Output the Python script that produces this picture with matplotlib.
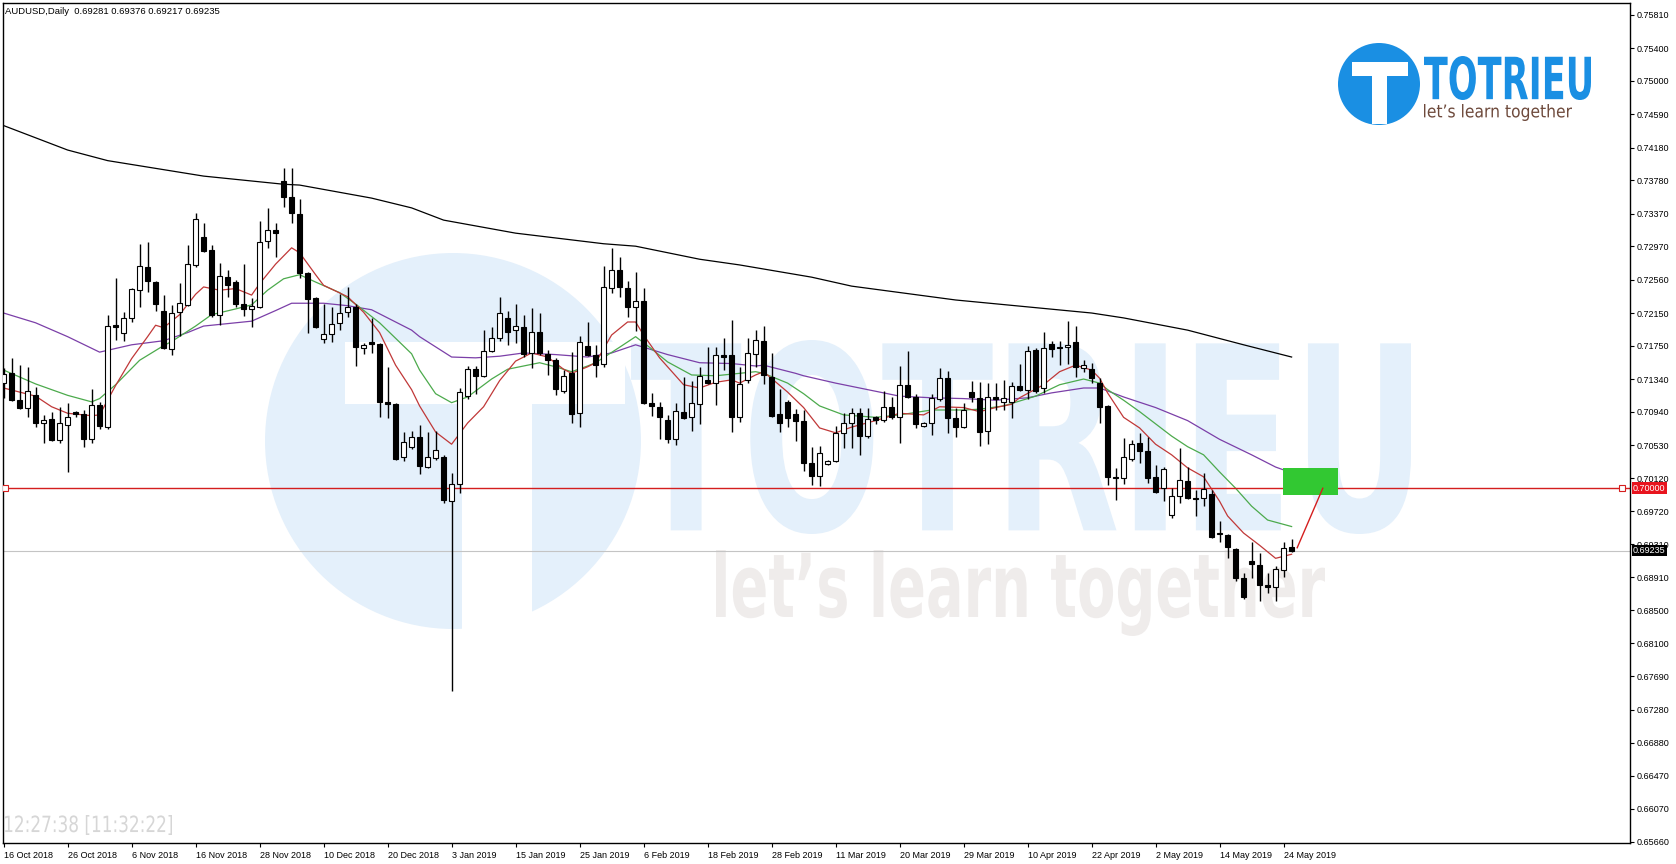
import matplotlib
matplotlib.use('Agg')
import matplotlib.pyplot as plt
from matplotlib.textpath import TextPath
from matplotlib.font_manager import FontProperties
from matplotlib.patches import PathPatch, Circle, Rectangle
from matplotlib.transforms import Affine2D, blended_transform_factory

# AUDUSD daily candles, 16 Oct 2018 .. 27 May 2019
opens = [0.7129, 0.7141, 0.7108, 0.7099, 0.7114, 0.7080, 0.7085, 0.7059, 0.7078, 0.7094,
         0.7091, 0.7060, 0.7102, 0.7075, 0.7200, 0.7191, 0.7209, 0.7243, 0.7272, 0.7253,
         0.7218, 0.7171, 0.7216, 0.7225, 0.7274, 0.7308, 0.7292, 0.7213, 0.7259, 0.7253,
         0.7226, 0.7220, 0.7222, 0.7303, 0.7317, 0.7377, 0.7357, 0.7336, 0.7264, 0.7233,
         0.7183, 0.7189, 0.7203, 0.7216, 0.7222, 0.7172, 0.7179, 0.7177, 0.7106, 0.7103,
         0.7038, 0.7051, 0.7063, 0.7026, 0.7037, 0.7038, 0.6984, 0.7005, 0.7113, 0.7146,
         0.7138, 0.7168, 0.7184, 0.7209, 0.7194, 0.7198, 0.7166, 0.7192, 0.7165, 0.7157,
         0.7119, 0.7141, 0.7092, 0.7175, 0.7164, 0.7153, 0.7246, 0.7268, 0.7246, 0.7222,
         0.7230, 0.7105, 0.7100, 0.7084, 0.7060, 0.7094, 0.7087, 0.7103, 0.7133, 0.7129,
         0.7164, 0.7164, 0.7087, 0.7133, 0.7165, 0.7181, 0.7136, 0.7091, 0.7106, 0.7091,
         0.7083, 0.7031, 0.7015, 0.7030, 0.7033, 0.7068, 0.7080, 0.7092, 0.7064, 0.7087,
         0.7084, 0.7100, 0.7087, 0.7127, 0.7112, 0.7076, 0.7080, 0.7110, 0.7135, 0.7086,
         0.7075, 0.7118, 0.7111, 0.7070, 0.7112, 0.7106, 0.7106, 0.7126, 0.7121, 0.7170,
         0.7123, 0.7177, 0.7173, 0.7173, 0.7179, 0.7148, 0.7146, 0.7129, 0.7101, 0.7014,
         0.7013, 0.7036, 0.7055, 0.7046, 0.7014, 0.7000, 0.6967, 0.6990, 0.7009, 0.6988,
         0.6988, 0.6993, 0.6944, 0.6943, 0.6925, 0.6890, 0.6911, 0.6906, 0.6881, 0.6879,
         0.6900, 0.69281]
highs = [0.7148, 0.7160, 0.7151, 0.7149, 0.7124, 0.7090, 0.7094, 0.7100, 0.7105, 0.7095,
         0.7096, 0.7122, 0.7106, 0.7213, 0.7258, 0.7216, 0.7246, 0.7300, 0.7302, 0.7254,
         0.7237, 0.7225, 0.7252, 0.7299, 0.7338, 0.7326, 0.7299, 0.7276, 0.7268, 0.7256,
         0.7275, 0.7233, 0.7328, 0.7344, 0.7326, 0.7393, 0.7393, 0.7355, 0.7265, 0.7235,
         0.7226, 0.7222, 0.7238, 0.7247, 0.7226, 0.7178, 0.7209, 0.7178, 0.7149, 0.7105,
         0.7069, 0.7070, 0.7078, 0.7069, 0.7070, 0.7041, 0.7019, 0.7123, 0.7150, 0.7150,
         0.7194, 0.7198, 0.7235, 0.7218, 0.7226, 0.7213, 0.7221, 0.7215, 0.7170, 0.7160,
         0.7145, 0.7167, 0.7187, 0.7204, 0.7176, 0.7273, 0.7295, 0.7284, 0.7254, 0.7265,
         0.7246, 0.7117, 0.7106, 0.7090, 0.7105, 0.7136, 0.7132, 0.7149, 0.7173, 0.7173,
         0.7184, 0.7206, 0.7149, 0.7184, 0.7194, 0.7199, 0.7166, 0.7122, 0.7108, 0.7097,
         0.7096, 0.7051, 0.7052, 0.7035, 0.7076, 0.7092, 0.7099, 0.7099, 0.7099, 0.7089,
         0.7119, 0.7112, 0.7150, 0.7168, 0.7116, 0.7081, 0.7116, 0.7148, 0.7144, 0.7099,
         0.7105, 0.7132, 0.7130, 0.7129, 0.7129, 0.7133, 0.7130, 0.7153, 0.7175, 0.7172,
         0.7192, 0.7181, 0.7181, 0.7205, 0.7199, 0.7157, 0.7154, 0.7135, 0.7102, 0.7025,
         0.7062, 0.7059, 0.7068, 0.7063, 0.7029, 0.7026, 0.7000, 0.7049, 0.7026, 0.6998,
         0.7019, 0.6998, 0.6960, 0.6944, 0.6927, 0.6896, 0.6934, 0.6921, 0.6896, 0.6904,
         0.6934, 0.69376]
lows = [0.7111, 0.7107, 0.7097, 0.7087, 0.7075, 0.7055, 0.7058, 0.7055, 0.7020, 0.7087,
        0.7051, 0.7055, 0.7073, 0.7073, 0.7182, 0.7181, 0.7204, 0.7222, 0.7241, 0.7218,
        0.7171, 0.7164, 0.7187, 0.7224, 0.7272, 0.7290, 0.7210, 0.7200, 0.7235, 0.7222,
        0.7211, 0.7198, 0.7221, 0.7295, 0.7284, 0.7345, 0.7326, 0.7258, 0.7191, 0.7197,
        0.7178, 0.7179, 0.7194, 0.7210, 0.7150, 0.7165, 0.7166, 0.7087, 0.7086, 0.7035,
        0.7033, 0.7048, 0.7018, 0.7025, 0.7035, 0.6982, 0.6751, 0.6994, 0.7110, 0.7116,
        0.7136, 0.7167, 0.7181, 0.7176, 0.7178, 0.7161, 0.7148, 0.7164, 0.7139, 0.7114,
        0.7117, 0.7080, 0.7075, 0.7162, 0.7136, 0.7149, 0.7240, 0.7235, 0.7210, 0.7193,
        0.7103, 0.7089, 0.7060, 0.7055, 0.7053, 0.7085, 0.7070, 0.7079, 0.7128, 0.7102,
        0.7145, 0.7069, 0.7081, 0.7129, 0.7149, 0.7128, 0.7087, 0.7069, 0.7075, 0.7058,
        0.7021, 0.7004, 0.7003, 0.7029, 0.7032, 0.7049, 0.7049, 0.7041, 0.7062, 0.7079,
        0.7081, 0.7085, 0.7055, 0.7111, 0.7074, 0.7075, 0.7065, 0.7107, 0.7068, 0.7063,
        0.7074, 0.7106, 0.7052, 0.7054, 0.7096, 0.7096, 0.7086, 0.7119, 0.7110, 0.7117,
        0.7117, 0.7161, 0.7151, 0.7153, 0.7136, 0.7143, 0.7129, 0.7080, 0.7004, 0.6986,
        0.7005, 0.7033, 0.7031, 0.7007, 0.6994, 0.6984, 0.6964, 0.6982, 0.6987, 0.6966,
        0.6978, 0.6939, 0.6934, 0.6914, 0.6886, 0.6864, 0.6890, 0.6862, 0.6872, 0.6862,
        0.6891, 0.69217]
closes = [0.7140, 0.7108, 0.7099, 0.7119, 0.7080, 0.7084, 0.7059, 0.7080, 0.7087, 0.7091,
          0.7060, 0.7102, 0.7076, 0.7199, 0.7198, 0.7209, 0.7245, 0.7273, 0.7254, 0.7226,
          0.7172, 0.7215, 0.7227, 0.7275, 0.7330, 0.7291, 0.7213, 0.7260, 0.7249, 0.7226,
          0.7220, 0.7224, 0.7302, 0.7317, 0.7313, 0.7357, 0.7338, 0.7264, 0.7232, 0.7198,
          0.7189, 0.7202, 0.7215, 0.7222, 0.7173, 0.7176, 0.7177, 0.7106, 0.7103, 0.7036,
          0.7057, 0.7063, 0.7027, 0.7038, 0.7047, 0.6986, 0.7005, 0.7118, 0.7146, 0.7138,
          0.7168, 0.7184, 0.7215, 0.7192, 0.7199, 0.7165, 0.7192, 0.7166, 0.7157, 0.7122,
          0.7138, 0.7091, 0.7179, 0.7164, 0.7151, 0.7247, 0.7268, 0.7247, 0.7222, 0.7230,
          0.7105, 0.7101, 0.7087, 0.7060, 0.7095, 0.7086, 0.7105, 0.7138, 0.7129, 0.7164,
          0.7161, 0.7087, 0.7128, 0.7166, 0.7182, 0.7139, 0.7089, 0.7080, 0.7086, 0.7083,
          0.7031, 0.7015, 0.7043, 0.7033, 0.7068, 0.7080, 0.7092, 0.7064, 0.7085, 0.7084,
          0.7100, 0.7087, 0.7127, 0.7112, 0.7079, 0.7080, 0.7111, 0.7135, 0.7086, 0.7075,
          0.7096, 0.7112, 0.7069, 0.7112, 0.7110, 0.7111, 0.7126, 0.7121, 0.7168, 0.7119,
          0.7172, 0.7171, 0.7172, 0.7176, 0.7149, 0.7151, 0.7135, 0.7100, 0.7014, 0.7013,
          0.7038, 0.7054, 0.7046, 0.7013, 0.6995, 0.7024, 0.6990, 0.7010, 0.6988, 0.6987,
          0.6999, 0.6940, 0.6945, 0.6928, 0.6890, 0.6867, 0.6907, 0.6881, 0.6879, 0.6901,
          0.6927, 0.69235]

# moving averages, sampled along the drawn lines (bar index, price)
ma_red_idx = [0, 4, 6, 8, 11, 12, 14, 16, 18, 19, 20, 22, 24, 25, 27, 29, 31, 32, 34, 36,
              37, 39, 40, 43, 45, 47, 49, 51, 52, 54, 56, 58, 60, 62, 64, 66, 68, 70, 71, 73,
              74, 76, 78, 79, 80, 82, 85, 87, 89, 91, 92, 94, 95, 98, 100, 102, 104, 106, 109, 112,
              115, 117, 120, 122, 124, 126, 127, 130, 132, 134, 136, 137, 138, 140, 142, 144, 146, 148, 150, 152,
              153, 155, 157, 159, 161]
ma_red = [0.7123, 0.7113, 0.7100, 0.7092, 0.7089, 0.7090, 0.7126, 0.7159, 0.7186, 0.7200,
          0.7197, 0.7213, 0.7238, 0.7247, 0.7243, 0.7245, 0.7237, 0.7251, 0.7275, 0.7295,
          0.7289, 0.7262, 0.7249, 0.7235, 0.7216, 0.7191, 0.7151, 0.7121, 0.7101, 0.7069,
          0.7054, 0.7080, 0.7100, 0.7132, 0.7156, 0.7166, 0.7161, 0.7146, 0.7141, 0.7149,
          0.7154, 0.7188, 0.7204, 0.7204, 0.7188, 0.7160, 0.7127, 0.7123, 0.7130, 0.7133,
          0.7129, 0.7139, 0.7143, 0.7118, 0.7099, 0.7074, 0.7068, 0.7075, 0.7083, 0.7092,
          0.7090, 0.7100, 0.7099, 0.7094, 0.7099, 0.7103, 0.7111, 0.7127, 0.7143, 0.7151,
          0.7145, 0.7135, 0.7117, 0.7087, 0.7074, 0.7054, 0.7041, 0.7025, 0.7014, 0.6984,
          0.6966, 0.6945, 0.6930, 0.6914, 0.6919]
ma_green_idx = [0, 4, 8, 11, 12, 14, 17, 20, 21, 24, 26, 29, 31, 33, 35, 37, 39, 42, 44, 47,
                49, 51, 52, 54, 56, 58, 61, 63, 67, 69, 71, 73, 74, 77, 79, 81, 83, 86, 89, 91,
                94, 95, 98, 100, 102, 105, 109, 112, 116, 120, 122, 125, 129, 132, 135, 137, 138, 140, 142, 144,
                146, 148, 150, 152, 154, 156, 158, 161]
ma_green = [0.7145, 0.7128, 0.7114, 0.7106, 0.7110, 0.7127, 0.7157, 0.7175, 0.7180, 0.7199,
            0.7213, 0.7220, 0.7225, 0.7243, 0.7257, 0.7262, 0.7253, 0.7240, 0.7226, 0.7203,
            0.7184, 0.7165, 0.7145, 0.7116, 0.7105, 0.7112, 0.7134, 0.7146, 0.7154, 0.7149,
            0.7143, 0.7150, 0.7154, 0.7173, 0.7186, 0.7171, 0.7155, 0.7139, 0.7138, 0.7140,
            0.7143, 0.7141, 0.7129, 0.7116, 0.7101, 0.7090, 0.7087, 0.7090, 0.7096, 0.7096,
            0.7097, 0.7101, 0.7113, 0.7127, 0.7134, 0.7129, 0.7121, 0.7108, 0.7094, 0.7079,
            0.7064, 0.7051, 0.7041, 0.7020, 0.7000, 0.6978, 0.6961, 0.6953]
ma_purple_idx = [0, 4, 8, 12, 16, 20, 23, 25, 29, 31, 34, 36, 40, 43, 46, 49, 51, 52, 56, 59,
                 62, 65, 69, 73, 76, 79, 83, 87, 91, 94, 95, 99, 100, 104, 108, 112, 116, 120, 124, 128,
                 131, 135, 137, 140, 144, 148, 152, 156, 159, 161]
ma_purple = [0.7215, 0.7203, 0.7186, 0.7167, 0.7176, 0.7181, 0.7191, 0.7199, 0.7203, 0.7205,
             0.7218, 0.7227, 0.7227, 0.7224, 0.7219, 0.7204, 0.7194, 0.7186, 0.7161, 0.7160,
             0.7162, 0.7166, 0.7164, 0.7161, 0.7166, 0.7176, 0.7164, 0.7154, 0.7153, 0.7150,
             0.7151, 0.7141, 0.7138, 0.7129, 0.7121, 0.7113, 0.7111, 0.7110, 0.7108, 0.7111,
             0.7117, 0.7123, 0.7123, 0.7112, 0.7099, 0.7083, 0.7060, 0.7041, 0.7026, 0.7019]
ma_black_idx = [0, 8, 13, 25, 35, 37, 46, 51, 55, 64, 75, 79, 87, 92, 101, 106, 119, 136, 140, 148,
                155, 161]
ma_black = [0.7445, 0.7415, 0.7402, 0.7383, 0.7373, 0.7372, 0.7356, 0.7344, 0.7329, 0.7313,
            0.7300, 0.7297, 0.7281, 0.7274, 0.7259, 0.7248, 0.7231, 0.7215, 0.7209, 0.7194,
            0.7176, 0.7161]

date_idx = list(range(0, 161, 8))
date_labels = ['16 Oct 2018', '26 Oct 2018', '6 Nov 2018', '16 Nov 2018', '28 Nov 2018',
               '10 Dec 2018', '20 Dec 2018', '3 Jan 2019', '15 Jan 2019', '25 Jan 2019',
               '6 Feb 2019', '18 Feb 2019', '28 Feb 2019', '11 Mar 2019', '20 Mar 2019',
               '29 Mar 2019', '10 Apr 2019', '22 Apr 2019', '2 May 2019', '14 May 2019',
               '24 May 2019']
price_ticks = [0.75810, 0.75400, 0.75000, 0.74590, 0.74180, 0.73780, 0.73370, 0.72970,
               0.72560, 0.72150, 0.71750, 0.71340, 0.70940, 0.70530, 0.70120, 0.69720,
               0.69310, 0.68910, 0.68500, 0.68100, 0.67690, 0.67280, 0.66880, 0.66470,
               0.66070, 0.65660]

level = 0.70000
bid = 0.69235
zone_x = [159.95, 166.8]
zone_y = [0.6992, 0.7025]
arrow_x = [161.7, 164.9]
arrow_y = [0.6927, 0.7000]

W, H = 1676, 864
fig = plt.figure(figsize=(W / 100, H / 100), dpi=100)

# background layer in pixel coordinates (watermark + logo)
bg = fig.add_axes([0, 0, 1, 1])
bg.set_xlim(0, W)
bg.set_ylim(H, 0)
bg.axis('off')


def fit_text(a, s, box, color, weight='bold'):
    x0, y0, x1, y1 = box
    tp = TextPath((0, 0), s, size=100, prop=FontProperties(family='DejaVu Sans', weight=weight))
    e = tp.get_extents()
    tr = Affine2D().translate(-e.x0, -e.y1).scale((x1 - x0) / e.width, -(y1 - y0) / e.height).translate(x0, y0)
    a.add_patch(PathPatch(tr.transform_path(tp), facecolor=color, edgecolor='none', lw=0))


wm = '#e4f0fb'
bg.add_patch(Circle((453, 441), 188, color=wm, lw=0))
bg.add_patch(Rectangle((345, 342), 280, 62, color='white', lw=0))
bg.add_patch(Rectangle((462, 404), 70, 230, color='white', lw=0))
fit_text(bg, 'TOTRIEU', (631, 340, 1411, 534), wm)
fit_text(bg, "let\u2019s learn together", (716, 550, 1325, 636), '#efeceb')

blue = '#1a8fe3'
bg.add_patch(Circle((1379, 84), 41, color=blue, lw=0))
bg.add_patch(Rectangle((1352, 62), 56, 14, color='white', lw=0))
bg.add_patch(Rectangle((1372, 76), 15, 48, color='white', lw=0))
fit_text(bg, 'TOTRIEU', (1424, 56, 1591, 100), blue)
fit_text(bg, "let\u2019s learn together", (1424, 104, 1572, 121), '#6e4a3c', weight='normal')

# main chart
ax = fig.add_axes([3 / W, 1 - 843 / H, 1627 / W, 840 / H])
ax.patch.set_alpha(0)
x = list(range(len(opens)))

ax.vlines(x, lows, highs, color='black', lw=1, zorder=3)
for i in x:
    o, c = opens[i], closes[i]
    bottom = min(o, c)
    h = max(abs(c - o), 0.00004)
    fc = 'white' if c >= o else 'black'
    ax.bar(i, h, bottom=bottom, width=0.62, color=fc, edgecolor='black', linewidth=0.8, zorder=4)

ax.plot(ma_black_idx, ma_black, color='black', lw=0.9, zorder=2)
ax.plot(ma_purple_idx, ma_purple, color='#7b3fa8', lw=0.9, zorder=2)
ax.plot(ma_green_idx, ma_green, color='#4caa4c', lw=0.9, zorder=2)
ax.plot(ma_red_idx, ma_red, color='#c03838', lw=0.9, zorder=2)

ax.axhline(level, color='#d41e1e', lw=1, zorder=2)
ax.plot([0.18, 202.3], [level, level], 's', ms=4, mfc='white', mec='#d41e1e', mew=0.8, zorder=5)
ax.axhline(bid, color='#c4c4c4', lw=0.8, zorder=1)
ax.add_patch(Rectangle((zone_x[0], zone_y[0]), zone_x[1] - zone_x[0], zone_y[1] - zone_y[0],
                       color='#32c832', lw=0, zorder=5))
ax.plot(arrow_x, arrow_y, color='#d41e1e', lw=1, zorder=5)

ax.set_xlim(-0.075, 203.3)
ax.set_ylim(0.65647, 0.75954)

ax.yaxis.tick_right()
ax.set_yticks(price_ticks)
ax.set_yticklabels(['%.5f' % p for p in price_ticks])
ax.set_xticks(date_idx)
ax.set_xticklabels(date_labels, ha='left')
ax.tick_params(axis='y', direction='out', length=3, pad=2, labelsize=6.5, width=0.8)
ax.tick_params(axis='x', direction='out', length=3, pad=3, labelsize=6.5, width=0.8)
for lab in ax.get_xticklabels() + ax.get_yticklabels():
    lab.set_family('Liberation Sans')
for sp in ax.spines.values():
    sp.set_linewidth(1)

tr = blended_transform_factory(fig.transFigure, ax.transData)
ax.text(1633 / W, level, '0.70000', transform=tr, fontsize=6.5, family='Liberation Sans', color='white',
        va='center', ha='left', bbox=dict(boxstyle='square,pad=0.15', fc='#e8141e', ec='none'), zorder=6)
ax.text(1633 / W, bid, '0.69235', transform=tr, fontsize=6.5, family='Liberation Sans', color='white',
        va='center', ha='left', bbox=dict(boxstyle='square,pad=0.15', fc='black', ec='none'), zorder=6)

fig.text(5 / W, 1 - 11 / H, 'AUDUSD,Daily  0.69281 0.69376 0.69217 0.69235', fontsize=6.8,
         family='Liberation Sans', va='center', ha='left')
fit_text(bg, '12:27:38 [11:32:22]', (5, 815, 172, 835), '#d6d6d6', weight='normal')

fig.savefig('out.png', dpi=100)
